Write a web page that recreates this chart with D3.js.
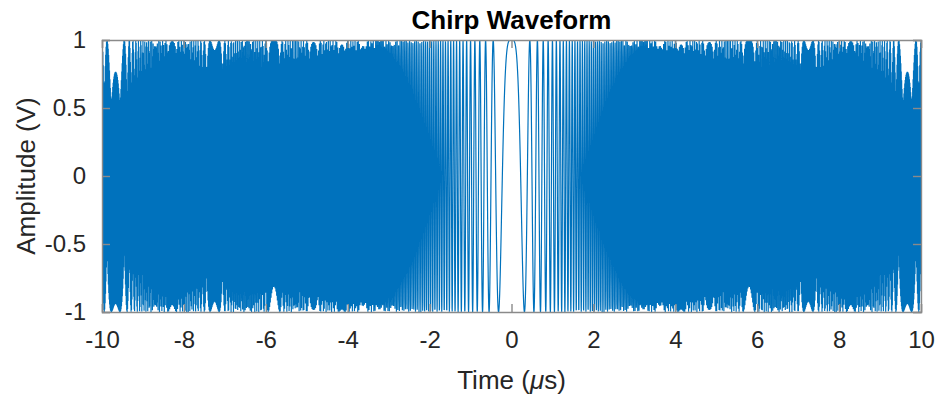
<!DOCTYPE html>
<html>
<head>
<meta charset="utf-8">
<script src="https://cdn.jsdelivr.net/npm/d3@7"></script>
<style>
  html, body { margin: 0; padding: 0; background: #fff; }
  svg { display: block; font-family: "Liberation Sans", Arial, Helvetica, sans-serif; }
</style>
</head>
<body>
<svg id="chart" width="938" height="400"></svg>
<script>
// Linear FM pulse: s(t) = cos(pi * chirpRate * t^2), sampled at sampleRate
const chirpRate = 10;        // MHz per microsecond
const sampleRate = 290;      // MHz (samples per microsecond)
const pulseSpan = [-10, 10]; // microseconds

const xTicks = [-10, -8, -6, -4, -2, 0, 2, 4, 6, 8, 10];
const yTicks = [-1, -0.5, 0, 0.5, 1];
const yTickLabels = ["-1", "-0.5", "0", "0.5", "1"];

const titleText = "Chirp Waveform";
const yLabelText = "Amplitude (V)";

// sample times and amplitudes of the pulse
const sampleCount = Math.round((pulseSpan[1] - pulseSpan[0]) * sampleRate);
const timeSamples = d3.range(sampleCount + 1).map(n => pulseSpan[0] + n / sampleRate);
const amplitude = timeSamples.map(t => Math.cos(Math.PI * chirpRate * t * t));

const margin = { left: 102, right: 17, top: 40, bottom: 88 };
const W = 938, H = 400;
const plotW = W - margin.left - margin.right;
const plotH = H - margin.top - margin.bottom;

const svg = d3.select("#chart");
const x = d3.scaleLinear().domain(pulseSpan).range([0, plotW]);
const y = d3.scaleLinear().domain([-1, 1]).range([plotH, 0]);

const g = svg.append("g").attr("transform", `translate(${margin.left},${margin.top})`);

g.append("clipPath").attr("id", "plotClip")
  .append("rect").attr("width", plotW).attr("height", plotH);

const line = d3.line()
  .x((d, i) => x(timeSamples[i]))
  .y(d => y(d));

g.append("path")
  .datum(amplitude)
  .attr("clip-path", "url(#plotClip)")
  .attr("fill", "none")
  .attr("stroke", "#0072BD")
  .attr("stroke-width", 1.2)
  .attr("d", line);

// axes with inward ticks, mirrored on all four sides
const tickLen = 8;
const axisColor = "#262626";
const boxColor = "#8a8a8a";

const xAxisB = d3.axisBottom(x).tickValues(xTicks).tickSize(-tickLen).tickPadding(19).tickFormat(d => String(d));
const xAxisT = d3.axisTop(x).tickValues(xTicks).tickSize(-tickLen).tickFormat("");
const yAxisL = d3.axisLeft(y).tickValues(yTicks).tickSize(-tickLen).tickPadding(16)
  .tickFormat((d, i) => yTickLabels[i]);
const yAxisR = d3.axisRight(y).tickValues(yTicks).tickSize(-tickLen).tickFormat("");

function styleAxis(sel) {
  sel.select(".domain").attr("stroke", boxColor).attr("stroke-width", 1.4);
  sel.selectAll(".tick line").attr("stroke", boxColor).attr("stroke-width", 1.4);
  sel.selectAll(".tick text").attr("fill", axisColor).style("font-size", "24px")
    .style("font-family", '"Liberation Sans", Arial, sans-serif');
}

g.append("g").attr("transform", `translate(0,${plotH})`).call(xAxisB).call(styleAxis);
g.append("g").call(xAxisT).call(styleAxis);
g.append("g").call(yAxisL).call(styleAxis);
g.append("g").attr("transform", `translate(${plotW},0)`).call(yAxisR).call(styleAxis);

// title
svg.append("text")
  .attr("x", margin.left + plotW / 2).attr("y", 29)
  .attr("text-anchor", "middle")
  .attr("fill", "#000")
  .style("font-size", "26px").style("font-weight", "bold")
  .text(titleText);

// x label with italic mu
const xl = svg.append("text")
  .attr("x", margin.left + plotW / 2).attr("y", 389)
  .attr("text-anchor", "middle")
  .attr("fill", axisColor)
  .style("font-size", "26px");
xl.append("tspan").text("Time (");
xl.append("tspan").style("font-style", "italic").text("\u03bc");
xl.append("tspan").text("s)");

// y label
svg.append("text")
  .attr("transform", `translate(35,${margin.top + plotH / 2}) rotate(-90)`)
  .attr("text-anchor", "middle")
  .attr("fill", axisColor)
  .style("font-size", "26px")
  .text(yLabelText);
</script>
</body>
</html>
